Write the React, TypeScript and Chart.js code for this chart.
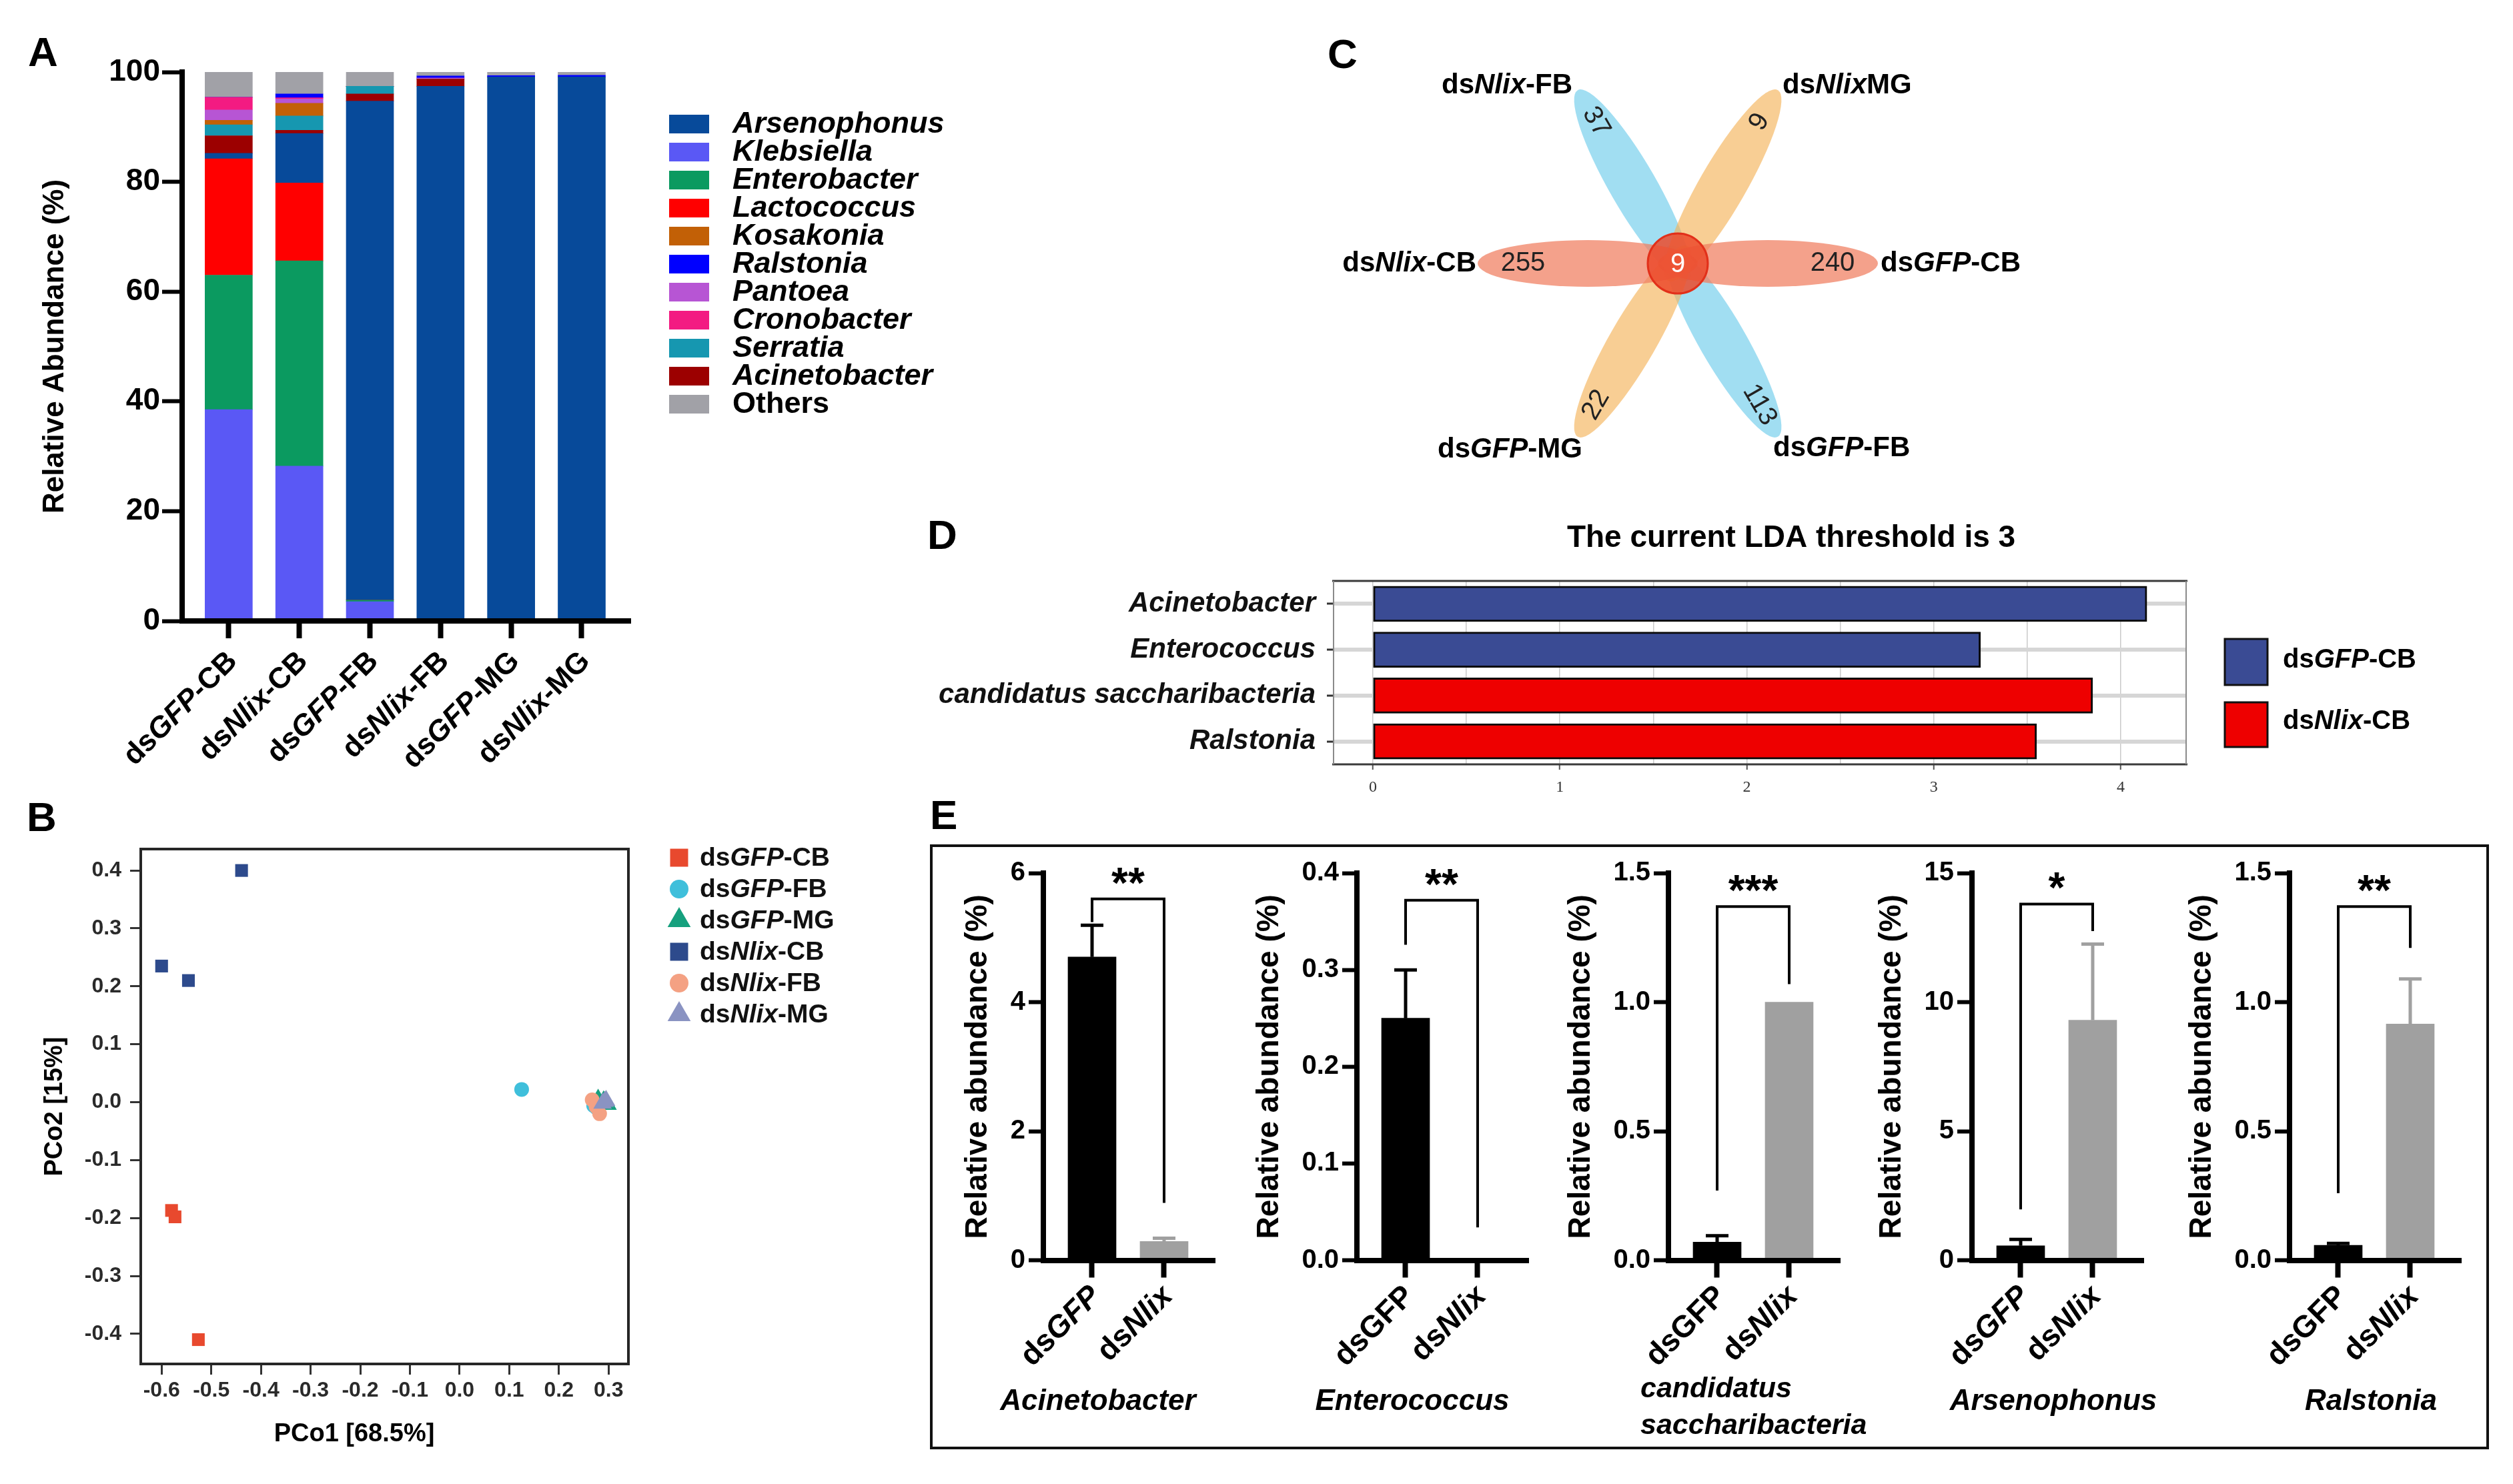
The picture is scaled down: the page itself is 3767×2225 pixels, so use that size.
import React, { useEffect, useRef } from "react";
import { Chart, registerables } from "chart.js";

Chart.register(...registerables);

const SANS = '"Liberation Sans", Arial, Helvetica, sans-serif';
const NARROW = '"Liberation Sans Narrow", "Arial Narrow", "Liberation Sans", sans-serif';
const SERIF = '"Liberation Serif", "Times New Roman", serif';

/* ================= Panel A data ================= */
const A_GROUPS = ["ds_GFP_-CB", "ds_Nlix_-CB", "ds_GFP_-FB", "ds_Nlix_-FB", "ds_GFP_-MG", "ds_Nlix_-MG"];
// stacking order, bottom -> top
const A_TAXA = ["Klebsiella", "Enterobacter", "Lactococcus", "Arsenophonus", "Acinetobacter", "Serratia", "Kosakonia", "Pantoea", "Cronobacter", "Ralstonia", "Others"];
const A_LEGEND = ["Arsenophonus", "Klebsiella", "Enterobacter", "Lactococcus", "Kosakonia", "Ralstonia", "Pantoea", "Cronobacter", "Serratia", "Acinetobacter", "Others"];
const A_KLEBSIELLA = [38.5, 28.2, 3.5, 0, 0, 0];
const A_ENTEROBACTER = [24.5, 37.4, 0.3, 0, 0, 0];
const A_LACTOCOCCUS = [21.2, 14.2, 0, 0, 0, 0];
const A_ARSENOPHONUS = [1.0, 9.0, 90.9, 97.4, 99.1, 99.1];
const A_ACINETOBACTER = [3.2, 0.6, 1.3, 1.3, 0, 0];
const A_SERRATIA = [2.0, 2.6, 1.4, 0, 0, 0];
const A_KOSAKONIA = [0.8, 2.3, 0, 0, 0, 0];
const A_PANTOEA = [1.9, 0.8, 0, 0.2, 0, 0];
const A_CRONOBACTER = [2.3, 0.2, 0, 0, 0, 0];
const A_RALSTONIA = [0, 0.7, 0, 0.4, 0.25, 0.3];
const A_OTHERS = [4.6, 4.0, 2.6, 0.7, 0.65, 0.6];
const A_Y_TICKS = [0, 20, 40, 60, 80, 100];

/* ================= Panel B data ================= */
const B_GROUPS = ["ds_GFP_-CB", "ds_GFP_-FB", "ds_GFP_-MG", "ds_Nlix_-CB", "ds_Nlix_-FB", "ds_Nlix_-MG"];
const B_GFP_CB_X = [-0.58, -0.573, -0.526];
const B_GFP_CB_Y = [-0.187, -0.198, -0.41];
const B_GFP_FB_X = [0.125, 0.27, 0.276];
const B_GFP_FB_Y = [0.022, -0.006, -0.01];
const B_GFP_MG_X = [0.279, 0.298, 0.29];
const B_GFP_MG_Y = [0.005, -0.004, 0.002];
const B_NLIX_CB_X = [-0.439, -0.6, -0.546];
const B_NLIX_CB_Y = [0.4, 0.235, 0.21];
const B_NLIX_FB_X = [0.267, 0.282, 0.275];
const B_NLIX_FB_Y = [0.004, -0.02, -0.008];
const B_NLIX_MG_X = [0.2925, 0.288, 0.295];
const B_NLIX_MG_Y = [0.001, -0.002, 0.003];
const B_X_TICKS = [-0.6, -0.5, -0.4, -0.3, -0.2, -0.1, 0, 0.1, 0.2, 0.3];
const B_Y_TICKS = [-0.4, -0.3, -0.2, -0.1, 0, 0.1, 0.2, 0.3, 0.4];

/* ================= Panel C data ================= */
const C_SETS = ["ds_GFP_-CB", "ds_Nlix_MG", "ds_Nlix_-FB", "ds_Nlix_-CB", "ds_GFP_-MG", "ds_GFP_-FB"];
const C_UNIQUE = [240, 9, 37, 255, 22, 113];
const C_CORE = 9;

/* ================= Panel D data ================= */
const D_TAXA = ["Acinetobacter", "Enterococcus", "candidatus saccharibacteria", "Ralstonia"];
const D_LDA = [4.14, 3.25, 3.85, 3.55];
const D_CLASS = [0, 0, 1, 1];
const D_CLASSES = ["ds_GFP_-CB", "ds_Nlix_-CB"];
const D_X_TICKS = [0, 0.5, 1, 1.5, 2, 2.5, 3, 3.5, 4];
const D_TITLE = "The current LDA threshold is 3";

/* ================= Panel E data ================= */
const E_TAXA = ["Acinetobacter", "Enterococcus", "candidatus saccharibacteria", "Arsenophonus", "Ralstonia"];
const E_GROUP_LABELS = [["ds_GFP_", "ds_Nlix_"], ["dsGFP", "ds_Nlix_"], ["dsGFP", "ds_Nlix_"], ["ds_GFP_", "ds_Nlix_"], ["dsGFP", "ds_Nlix_"]];
const E_MEANS = [[4.7, 0.29], [0.25, 0], [0.07, 1.0], [0.56, 9.3], [0.058, 0.915]];
const E_SE = [[0.49, 0.05], [0.05, 0], [0.025, 0], [0.25, 2.95], [0.007, 0.175]];
const E_Y_TICKS = [[0, 2, 4, 6], [0, 0.1, 0.2, 0.3, 0.4], [0, 0.5, 1, 1.5], [0, 5, 10, 15], [0, 0.5, 1, 1.5]];
const E_DECIMALS = [0, 1, 1, 0, 1];
const E_BRACKETS = [[5.6, 5.24, 0.89], [0.372, 0.326, 0.034], [1.37, 0.27, 1.07], [13.8, 1.97, 12.75], [1.37, 0.26, 1.21]];
const E_STARS = ["**", "**", "***", "*", "**"];

/* ================= styles ================= */
const A_COLORS: Record<string, string> = {
  Arsenophonus: "#074a9a",
  Klebsiella: "#5a58f5",
  Enterobacter: "#0b9a60",
  Lactococcus: "#ff0000",
  Kosakonia: "#c26006",
  Ralstonia: "#0000ff",
  Pantoea: "#b755d4",
  Cronobacter: "#f31b82",
  Serratia: "#1697b0",
  Acinetobacter: "#9c0000",
  Others: "#a1a1a7",
};
const B_STYLE = [
  { c: "#e8492e", s: "rect", r: 13.5 },
  { c: "#3fbfdb", s: "circle", r: 11 },
  { c: "#16a07e", s: "triangle", r: 16 },
  { c: "#2d4a8c", s: "rect", r: 13.5 },
  { c: "#f4a183", s: "circle", r: 11 },
  { c: "#8a93c2", s: "triangle", r: 16 },
];
const B_ORDER = [5, 3, 4, 2, 1, 0];
const C_FILL = ["rgba(240,130,100,0.75)", "rgba(245,180,90,0.65)", "rgba(110,205,235,0.65)"];
const D_COLORS = ["#3a4b94", "#ee0000"];
const E_BAR_COLORS = ["#000000", "#a0a0a0"];

/* ================= helpers ================= */
function fnt(size: number, weight = "bold", italic = false, family = SANS) {
  return `${italic ? "italic " : ""}${weight} ${size}px ${family}`;
}
type RichOpts = { weight?: string; align?: "left" | "right" | "center"; color?: string; family?: string; baseline?: CanvasTextBaseline; italic?: boolean };
function rich(ctx: CanvasRenderingContext2D, s: string, x: number, y: number, size: number, o: RichOpts = {}) {
  const weight = o.weight || "bold";
  const family = o.family || SANS;
  const segs = s.split("_").map((t, i) => ({ t, it: i % 2 === 1 || !!o.italic }));
  let total = 0;
  const ws = segs.map((g) => {
    ctx.font = fnt(size, weight, g.it, family);
    const w = ctx.measureText(g.t).width;
    total += w;
    return w;
  });
  let sx = o.align === "right" ? x - total : o.align === "center" ? x - total / 2 : x;
  ctx.fillStyle = o.color || "#000";
  ctx.textBaseline = o.baseline || "middle";
  ctx.textAlign = "left";
  segs.forEach((g, i) => {
    ctx.font = fnt(size, weight, g.it, family);
    ctx.fillText(g.t, sx, y);
    sx += ws[i];
  });
}
function richRot(ctx: CanvasRenderingContext2D, s: string, x: number, y: number, ang: number, size: number, o: RichOpts = {}) {
  ctx.save();
  ctx.translate(x, y);
  ctx.rotate(ang);
  rich(ctx, s, 0, 0, size, o);
  ctx.restore();
}
const fixBox = (w?: number, h?: number) => (s: any) => {
  if (w !== undefined) s.width = w;
  if (h !== undefined) s.height = h;
  s.paddingLeft = 0;
  s.paddingRight = 0;
  s.paddingTop = 0;
  s.paddingBottom = 0;
};
const setTicks = (vals: number[]) => (s: any) => {
  s.ticks = vals.map((v) => ({ value: v }));
};
const BASE = { responsive: false, animation: false, devicePixelRatio: 1, events: [] as any[] };
const NOPLUG = { legend: { display: false }, tooltip: { enabled: false }, title: { display: false } };

function ChartBox({ left, top, width, height, config }: { left: number; top: number; width: number; height: number; config: () => any }) {
  const ref = useRef<HTMLCanvasElement>(null);
  useEffect(() => {
    const c = new Chart(ref.current as HTMLCanvasElement, config());
    return () => c.destroy();
  }, []);
  return <canvas ref={ref} width={width} height={height} style={{ position: "absolute", left, top, width, height }} />;
}

function Letter({ ch, left, base }: { ch: string; left: number; base: number }) {
  const size = 62;
  return (
    <div style={{ position: "absolute", left, top: base - 0.8465 * size, fontFamily: SANS, fontWeight: 700, fontSize: size, lineHeight: 1, color: "#000" }}>
      {ch}
    </div>
  );
}

/* ================= Panel A ================= */
function makeA() {
  const series: Record<string, number[]> = {
    Klebsiella: A_KLEBSIELLA, Enterobacter: A_ENTEROBACTER, Lactococcus: A_LACTOCOCCUS, Arsenophonus: A_ARSENOPHONUS,
    Acinetobacter: A_ACINETOBACTER, Serratia: A_SERRATIA, Kosakonia: A_KOSAKONIA, Pantoea: A_PANTOEA,
    Cronobacter: A_CRONOBACTER, Ralstonia: A_RALSTONIA, Others: A_OTHERS,
  };
  const plugin = {
    id: "aDecor",
    afterDraw(chart: any) {
      const { ctx, chartArea: ca } = chart;
      const x = chart.scales.x;
      A_GROUPS.forEach((g, i) => richRot(ctx, g, x.getPixelForValue(i) + 6, ca.bottom + 54, -Math.PI / 4, 44, { align: "right" }));
      richRot(ctx, "Relative Abundance (%)", ca.left - 190, (ca.top + ca.bottom) / 2, -Math.PI / 2, 44, { align: "center" });
      A_LEGEND.forEach((t, r) => {
        const yy = 186 + r * 42;
        ctx.fillStyle = A_COLORS[t];
        ctx.fillRect(1003, yy - 14, 60, 28);
        rich(ctx, t === "Others" ? t : `_${t}_`, 1098, yy + 1, 45, { align: "left" });
      });
    },
  };
  return {
    type: "bar",
    data: {
      datasets: A_TAXA.map((t) => ({
        label: t,
        data: series[t].map((v, i) => ({ x: i, y: v })),
        backgroundColor: A_COLORS[t],
        borderWidth: 0,
        barThickness: 71,
      })),
    },
    options: {
      ...BASE,
      layout: { padding: { left: 0, top: 108, right: 505, bottom: 199 } },
      plugins: NOPLUG,
      scales: {
        x: {
          type: "linear", min: -0.66, max: 5.69, stacked: true, offset: false,
          afterBuildTicks: setTicks(A_GROUPS.map((_, i) => i)), afterFit: fixBox(undefined, 40),
          ticks: { display: false },
          grid: { offset: false, drawOnChartArea: false, drawTicks: true, tickLength: 26, tickWidth: 8, tickColor: "#000" },
          border: { display: true, width: 8, color: "#000", z: 1 },
        },
        y: {
          type: "linear", min: 0, max: 100, stacked: true,
          afterBuildTicks: setTicks(A_Y_TICKS), afterFit: fixBox(273),
          ticks: { font: { family: SANS, size: 46, weight: "bold" }, color: "#000", padding: 3, autoSkip: false },
          grid: { drawOnChartArea: false, tickLength: 30, tickWidth: 6, tickColor: "#000" },
          border: { display: true, width: 8, color: "#000", z: 1 },
        },
      },
    },
    plugins: [plugin],
  };
}

/* ================= Panel B ================= */
function makeB() {
  const xs = [B_GFP_CB_X, B_GFP_FB_X, B_GFP_MG_X, B_NLIX_CB_X, B_NLIX_FB_X, B_NLIX_MG_X];
  const ys = [B_GFP_CB_Y, B_GFP_FB_Y, B_GFP_MG_Y, B_NLIX_CB_Y, B_NLIX_FB_Y, B_NLIX_MG_Y];
  const plugin = {
    id: "bDecor",
    afterDraw(chart: any) {
      const { ctx, chartArea: ca } = chart;
      ctx.save();
      ctx.strokeStyle = "#262626";
      ctx.lineWidth = 4;
      ctx.strokeRect(ca.left, ca.top, ca.right - ca.left, ca.bottom - ca.top);
      ctx.restore();
      richRot(ctx, "PCo2 [15%]", 83, (ca.top + ca.bottom) / 2, -Math.PI / 2, 38, { align: "center" });
      rich(ctx, "PCo1 [68.5%]", 531, 971, 38, { align: "center" });
      B_GROUPS.forEach((g, k) => {
        const yy = 106 + 47 * k;
        const st = B_STYLE[k];
        ctx.fillStyle = st.c;
        ctx.beginPath();
        if (st.s === "rect") ctx.rect(1018 - 13.5, yy - 13.5, 27, 27);
        else if (st.s === "circle") ctx.arc(1018, yy, 14, 0, Math.PI * 2);
        else {
          const r = 20;
          ctx.moveTo(1018, yy - r);
          ctx.lineTo(1018 + r * 0.866, yy + r * 0.5);
          ctx.lineTo(1018 - r * 0.866, yy + r * 0.5);
          ctx.closePath();
        }
        ctx.fill();
        rich(ctx, g, 1049, yy + 1, 39, { align: "left", color: "#111" });
      });
    },
  };
  const tickFont = { family: NARROW, size: 32, weight: "bold" };
  return {
    type: "scatter",
    data: {
      datasets: B_GROUPS.map((g, k) => ({
        label: g,
        data: xs[k].map((v, i) => ({ x: v, y: ys[k][i] })),
        backgroundColor: B_STYLE[k].c,
        borderWidth: 0,
        pointStyle: B_STYLE[k].s,
        pointRadius: B_STYLE[k].r,
        order: B_ORDER[k],
      })),
    },
    options: {
      ...BASE,
      layout: { padding: { left: 0, top: 93, right: 358, bottom: 120 } },
      plugins: NOPLUG,
      scales: {
        x: {
          type: "linear", min: -0.642, max: 0.34,
          afterBuildTicks: setTicks(B_X_TICKS), afterFit: fixBox(undefined, 60),
          ticks: { font: tickFont, color: "#2a2a2a", padding: 5, autoSkip: false, maxRotation: 0, minRotation: 0, callback: (v: any) => Number(v).toFixed(1) },
          grid: { drawOnChartArea: false, tickLength: 16, tickWidth: 3, tickColor: "#333" },
          border: { display: false },
        },
        y: {
          type: "linear", min: -0.452, max: 0.437,
          afterBuildTicks: setTicks(B_Y_TICKS), afterFit: fixBox(211),
          ticks: { font: tickFont, color: "#2a2a2a", padding: 13, autoSkip: false, callback: (v: any) => Number(v).toFixed(1) },
          grid: { drawOnChartArea: false, tickLength: 16, tickWidth: 3, tickColor: "#333" },
          border: { display: false },
        },
      },
    },
    plugins: [plugin],
  };
}

/* ================= Panel C ================= */
function makeC() {
  const fillFor = (k: number) => C_FILL[[0, 1, 2, 0, 1, 2][k]];
  const textRot = [0, -60, 60, 0, -60, 60];
  const labelPos = [
    { dx: 4, dy: 0, a: "left" },
    { dx: 7, dy: -7, a: "left" },
    { dx: -8, dy: -7, a: "right" },
    { dx: -2, dy: 0, a: "right" },
    { dx: 7, dy: 20, a: "right" },
    { dx: -7, dy: 18, a: "left" },
  ];
  const plugin = {
    id: "cDecor",
    afterDraw(chart: any) {
      const { ctx } = chart;
      const x = chart.scales.x;
      const y = chart.scales.y;
      const P = (u: number, v: number) => [x.getPixelForValue(u), y.getPixelForValue(v)];
      const unit = x.getPixelForValue(1) - x.getPixelForValue(0);
      ctx.save();
      [2, 5, 1, 4, 0, 3].forEach((k) => {
        const th = (k * Math.PI) / 3;
        const [cx, cy] = P(135 * Math.cos(th), 135 * Math.sin(th));
        ctx.beginPath();
        ctx.ellipse(cx, cy, 165 * unit, 35 * unit, -th, 0, Math.PI * 2);
        ctx.fillStyle = fillFor(k);
        ctx.fill();
      });
      const [ox, oy] = P(0, 0);
      ctx.beginPath();
      ctx.arc(ox, oy, 45 * unit, 0, Math.PI * 2);
      ctx.fillStyle = "rgba(236,75,45,0.85)";
      ctx.fill();
      ctx.lineWidth = 3;
      ctx.strokeStyle = "#e2301a";
      ctx.stroke();
      ctx.font = fnt(40, "normal");
      ctx.textAlign = "center";
      ctx.textBaseline = "middle";
      ctx.fillStyle = "#ffffff";
      ctx.fillText(String(C_CORE), ox, oy + 2);
      C_UNIQUE.forEach((n, k) => {
        const th = (k * Math.PI) / 3;
        const d = k % 3 === 0 ? 232 : 245;
        const [px, py] = P(d * Math.cos(th), d * Math.sin(th));
        ctx.save();
        ctx.translate(px, py);
        ctx.rotate((textRot[k] * Math.PI) / 180);
        ctx.font = fnt(40, "normal");
        ctx.textAlign = "center";
        ctx.textBaseline = "middle";
        ctx.fillStyle = "#222";
        ctx.fillText(String(n), 0, 0);
        ctx.restore();
      });
      C_SETS.forEach((s, k) => {
        const th = (k * Math.PI) / 3;
        const [tx, ty] = P(300 * Math.cos(th), 300 * Math.sin(th));
        const lp = labelPos[k];
        rich(ctx, s, tx + lp.dx, ty + lp.dy, 42, { align: lp.a as any });
      });
      ctx.restore();
    },
  };
  return {
    type: "scatter",
    data: { datasets: [{ data: [] }] },
    options: {
      ...BASE,
      layout: { padding: 0 },
      plugins: NOPLUG,
      scales: {
        x: { type: "linear", min: -565, max: 615, display: false },
        y: { type: "linear", min: -345, max: 395, display: false },
      },
    },
    plugins: [plugin],
  };
}

/* ================= Panel D ================= */
function makeD() {
  const plugin = {
    id: "dDecor",
    afterDraw(chart: any) {
      const { ctx, chartArea: ca } = chart;
      ctx.save();
      ctx.strokeStyle = "#3a3a3a";
      ctx.lineWidth = 3;
      ctx.beginPath();
      ctx.moveTo(ca.left - 2, ca.top);
      ctx.lineTo(ca.right + 2, ca.top);
      ctx.moveTo(ca.left - 2, ca.bottom);
      ctx.lineTo(ca.right + 2, ca.bottom);
      ctx.stroke();
      ctx.strokeStyle = "#8a8a8a";
      ctx.lineWidth = 2;
      ctx.beginPath();
      ctx.moveTo(ca.left, ca.top);
      ctx.lineTo(ca.left, ca.bottom);
      ctx.moveTo(ca.right, ca.top);
      ctx.lineTo(ca.right, ca.bottom);
      ctx.stroke();
      ctx.restore();
      rich(ctx, D_TITLE, 1305, 67, 46, { align: "center" });
      D_CLASSES.forEach((c, k) => {
        const top = k === 0 ? 218 : 313;
        const h = k === 0 ? 69 : 67;
        ctx.fillStyle = D_COLORS[k];
        ctx.fillRect(1955, top, 64, h);
        ctx.strokeStyle = "#111";
        ctx.lineWidth = 3;
        ctx.strokeRect(1955, top, 64, h);
        rich(ctx, c, 2042, k === 0 ? 250 : 342, 40, { align: "left" });
      });
    },
  };
  return {
    type: "bar",
    data: {
      labels: D_TAXA,
      datasets: [{
        data: D_LDA,
        backgroundColor: D_CLASS.map((c) => D_COLORS[c]),
        borderColor: "#0a0a0a",
        borderWidth: 3,
        borderSkipped: false,
        barThickness: 53,
      }],
    },
    options: {
      ...BASE,
      indexAxis: "y",
      layout: { padding: { left: 0, top: 131, right: 490, bottom: 34 } },
      plugins: NOPLUG,
      scales: {
        x: {
          type: "linear", min: -0.2105, max: 4.35,
          afterBuildTicks: setTicks(D_X_TICKS), afterFit: fixBox(undefined, 50),
          ticks: { font: { family: SERIF, size: 24, weight: "normal" }, color: "#333", padding: 12, autoSkip: false, maxRotation: 0, minRotation: 0, callback: (v: any) => (Number.isInteger(Number(v)) ? String(v) : "") },
          grid: {
            offset: false, drawOnChartArea: true, color: "#cacaca", lineWidth: 1.5, tickLength: 8, tickWidth: 2,
            tickColor: (c: any) => (c.tick && Number.isInteger(c.tick.value) ? "#555" : "rgba(0,0,0,0)"),
          },
          border: { display: false },
        },
        y: {
          type: "category", offset: true,
          afterFit: fixBox(619),
          ticks: { font: { family: SANS, size: 42, weight: "bold", style: "italic" }, color: "#111", padding: 17, autoSkip: false },
          grid: { offset: false, drawOnChartArea: true, color: "#d6d6d6", lineWidth: 6, tickLength: 10, tickWidth: 3, tickColor: "#333" },
          border: { display: false },
        },
      },
    },
    plugins: [plugin],
  };
}

/* ================= Panel E ================= */
const E_AXIS_X = [1564, 2034, 2501, 2956, 3432];
const E_NAME_DX = [82, 83, -42, 122, 122];
const E_CANVAS_W = 540;

function makeE(i: number) {
  const ticks = E_Y_TICKS[i];
  const fmt = (v: number) => (E_DECIMALS[i] ? Number(v).toFixed(1) : String(v));
  const plugin = {
    id: "eDecor" + i,
    afterDatasetsDraw(chart: any) {
      const { ctx } = chart;
      const x = chart.scales.x;
      const y = chart.scales.y;
      ctx.save();
      E_MEANS[i].forEach((m, k) => {
        const se = E_SE[i][k];
        if (!se) return;
        const px = x.getPixelForValue(k);
        const y0 = y.getPixelForValue(m);
        const y1 = y.getPixelForValue(m + se);
        ctx.strokeStyle = E_BAR_COLORS[k];
        ctx.lineWidth = 5;
        ctx.beginPath();
        ctx.moveTo(px, y0);
        ctx.lineTo(px, y1);
        ctx.moveTo(px - 17, y1);
        ctx.lineTo(px + 17, y1);
        ctx.stroke();
      });
      ctx.restore();
    },
    afterDraw(chart: any) {
      const { ctx, chartArea: ca } = chart;
      const x = chart.scales.x;
      const y = chart.scales.y;
      const [top, lb, rb] = E_BRACKETS[i];
      const x0 = x.getPixelForValue(0);
      const x1 = x.getPixelForValue(1);
      const yt = y.getPixelForValue(top);
      ctx.save();
      ctx.strokeStyle = "#000";
      ctx.lineWidth = 4;
      ctx.lineJoin = "miter";
      ctx.beginPath();
      ctx.moveTo(x0, y.getPixelForValue(lb));
      ctx.lineTo(x0, yt);
      ctx.lineTo(x1, yt);
      ctx.lineTo(x1, y.getPixelForValue(rb));
      ctx.stroke();
      ctx.font = fnt(64);
      ctx.textAlign = "center";
      ctx.textBaseline = "alphabetic";
      ctx.fillStyle = "#000";
      ctx.fillText(E_STARS[i], (x0 + x1) / 2, yt - 2);
      ctx.restore();
      E_GROUP_LABELS[i].forEach((g, k) => richRot(ctx, g, x.getPixelForValue(k) + 6, ca.bottom + 47, -Math.PI / 4, 46, { align: "right" }));
      ctx.font = fnt(40);
      const mw = Math.max(...ticks.map((v) => ctx.measureText(fmt(v)).width));
      richRot(ctx, "Relative abundance (%)", ca.left - 22 - 5 - mw - 48, (ca.top + ca.bottom) / 2, -Math.PI / 2, 46, { align: "center" });
      const name = E_TAXA[i];
      if (E_NAME_DX[i] < 0) {
        name.split(" ").forEach((w, j) => rich(ctx, w, ca.left + E_NAME_DX[i], 813 + 55 * j, 43, { align: "left", italic: true }));
      } else {
        rich(ctx, name, ca.left + E_NAME_DX[i], 832, 44, { align: "center", italic: true });
      }
    },
  };
  return {
    type: "bar",
    data: {
      datasets: [{
        data: E_MEANS[i].map((v, k) => ({ x: k, y: v })),
        backgroundColor: E_BAR_COLORS,
        borderWidth: 0,
        barThickness: 72,
      }],
    },
    options: {
      ...BASE,
      layout: { padding: { left: 0, top: 39, right: E_CANVAS_W - 190 - 257, bottom: 240.5 } },
      plugins: NOPLUG,
      scales: {
        x: {
          type: "linear", min: -0.676, max: 1.704, offset: false,
          afterBuildTicks: setTicks([0, 1]), afterFit: fixBox(undefined, 40),
          ticks: { display: false },
          grid: { offset: false, drawOnChartArea: false, tickLength: 26, tickWidth: 8, tickColor: "#000" },
          border: { display: true, width: 8, color: "#000", z: 1 },
        },
        y: {
          type: "linear", min: 0, max: ticks[ticks.length - 1],
          afterBuildTicks: setTicks(ticks), afterFit: fixBox(190),
          ticks: { font: { family: SANS, size: 40, weight: "bold" }, color: "#000", padding: 5, autoSkip: false, callback: (v: any) => fmt(Number(v)) },
          grid: { drawOnChartArea: false, tickLength: 22, tickWidth: 6, tickColor: "#000" },
          border: { display: true, width: 8, color: "#000", z: 1 },
        },
      },
    },
    plugins: [plugin],
  };
}

export default function App() {
  return (
    <div style={{ position: "absolute", left: 0, top: 0, width: 3767, height: 2225, background: "#fff", overflow: "hidden" }}>
      <Letter ch="A" left={42} base={99} />
      <Letter ch="B" left={40} base={1246} />
      <Letter ch="C" left={1990} base={102} />
      <Letter ch="D" left={1390} base={823} />
      <Letter ch="E" left={1394} base={1243} />
      <div style={{ position: "absolute", left: 1394, top: 1266, width: 2337, height: 907, border: "4px solid #111", boxSizing: "border-box" }} />
      <ChartBox left={0} top={0} width={1450} height={1170} config={makeA} />
      <ChartBox left={0} top={1180} width={1300} height={1045} config={makeB} />
      <ChartBox left={1950} top={0} width={1180} height={740} config={makeC} />
      <ChartBox left={1380} top={740} width={2387} height={490} config={makeD} />
      {E_TAXA.map((_, i) => (
        <ChartBox key={i} left={E_AXIS_X[i] - 190} top={1270} width={E_CANVAS_W} height={900} config={() => makeE(i)} />
      ))}
    </div>
  );
}
